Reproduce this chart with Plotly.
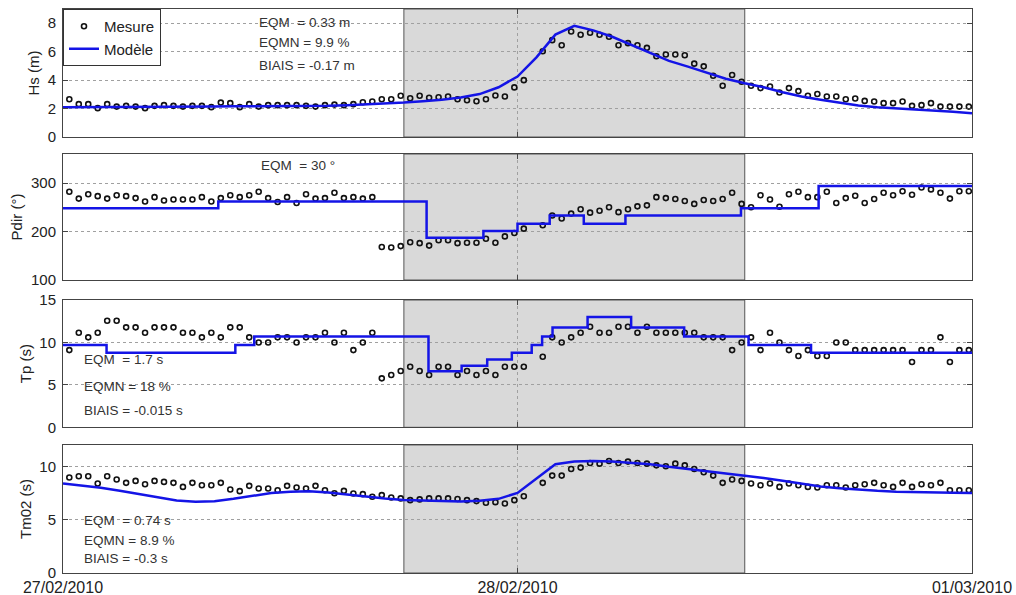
import pandas as pd
import plotly.graph_objects as go
from plotly.subplots import make_subplots

# ---------------- data ----------------
START = pd.Timestamp("2010-02-27 00:00")
meas_time = pd.date_range("2010-02-27 00:20", periods=96, freq="30min")
model_time = pd.date_range("2010-02-27 00:00", periods=49, freq="h")

hs_meas = [2.66, 2.31, 2.31, 2.03, 2.31, 2.14, 2.19, 2.14, 2.03, 2.19,
           2.24, 2.19, 2.14, 2.19, 2.19, 2.10, 2.42, 2.38, 2.10, 2.31,
           2.14, 2.24, 2.24, 2.24, 2.24, 2.19, 2.14, 2.24, 2.28, 2.24,
           2.31, 2.45, 2.50, 2.66, 2.66, 2.90, 2.73, 2.90, 2.76, 2.80,
           2.85, 2.66, 2.59, 2.52, 2.66, 2.92, 2.85, 3.49, 4.00, None,
           6.03, 6.81, 6.45, 7.42, 7.19, 7.33, 7.19, 7.05, 6.45, 6.60,
           6.45, 6.27, 5.68, 5.80, 5.80, 5.75, 5.16, 4.97, 4.31, 3.60,
           4.36, 3.89, 3.60, 3.44, 3.55, 3.13, 3.44, 3.23, 2.90, 3.02,
           2.85, 2.85, 2.66, 2.71, 2.54, 2.50, 2.38, 2.38, 2.50, 2.19,
           2.24, 2.38, 2.14, 2.14, 2.14, 2.14]
hs_model = [2.10, 2.10, 2.10, 2.11, 2.12, 2.13, 2.14, 2.15, 2.15, 2.16,
            2.16, 2.17, 2.17, 2.18, 2.19, 2.23, 2.28, 2.35, 2.42, 2.52,
            2.62, 2.78, 3.02, 3.50, 4.25, 5.60, 7.20, 7.82, 7.50, 7.05,
            6.47, 5.90, 5.35, 4.95, 4.50, 4.10, 3.78, 3.50, 3.15, 2.85,
            2.62, 2.42, 2.22, 2.10, 2.03, 1.95, 1.86, 1.77, 1.68]

pdir_meas = [282, 268, 277, 273, 268, 275, 273, 269, 262, 271,
             264, 266, 266, 266, 271, 262, 269, 275, 271, 275,
             282, 269, 261, 271, 259, 277, 268, 269, 280, 269,
             271, 268, 271, 168, 167, 170, 178, 176, 171, 182,
             182, 176, 177, 177, 185, 177, 190, 197, 206, None,
             213, 233, 227, 237, 246, 239, 243, 250, 240, 246,
             252, 254, 271, 269, 267, 263, 257, 265, 263, 267,
             280, 257, 250, 275, 266, 251, 277, 282, 271, 271,
             282, 259, 269, 274, 259, 267, 280, 275, 283, 276,
             291, 287, 280, 268, 283, 283]
pdir_step_hours = [0, 8.2, 19.2, 22.2, 24.0, 25.7, 27.5, 29.7, 35.8, 39.9]
pdir_step_levels = [248, 262, 187, 201, 216, 233, 216, 233, 248, 294]

tp_meas = [9.10, 11.15, 10.60, 11.15, 12.56, 12.56, 11.78, 11.78, 11.15, 11.78,
           11.78, 11.78, 11.15, 11.15, 10.60, 11.15, 10.60, 11.78, 11.78, 10.60,
           10.00, 10.00, 10.60, 10.60, 10.00, 10.60, 10.60, 11.15, 10.00, 11.15,
           9.10, 10.00, 11.15, 5.77, 6.16, 6.63, 7.14, 6.63, 6.16, 7.14,
           7.14, 6.16, 6.63, 6.16, 6.63, 6.16, 7.14, 7.14, 7.14, None,
           8.32, 10.60, 10.00, 10.60, 11.15, 11.85, 11.15, 11.15, 11.85, 11.85,
           11.15, 11.85, 11.15, 11.15, 11.15, 11.15, 11.15, 10.60, 10.60, 10.60,
           9.10, 10.00, 10.60, 9.10, 11.15, 10.00, 9.10, 8.40, 9.10, 8.40,
           8.40, 10.00, 10.00, 9.10, 9.10, 9.10, 9.10, 9.10, 9.10, 7.69,
           9.10, 9.10, 10.60, 7.69, 9.10, 9.10]
tp_step_hours = [0, 2.3, 9.1, 10.1, 19.3, 21.05, 22.4, 23.7, 24.75, 25.3,
                 25.85, 27.7, 30.0, 32.8, 36.2, 39.5]
tp_step_levels = [9.7, 8.8, 9.7, 10.7, 6.6, 7.25, 8.0, 8.8, 9.7, 10.7,
                  11.75, 13.0, 11.75, 10.7, 9.7, 8.8]

tm02_meas = [8.95, 9.07, 9.07, 8.39, 9.07, 8.76, 8.45, 8.63, 8.32, 8.63,
             8.54, 8.45, 8.07, 8.45, 8.23, 8.23, 8.45, 7.83, 7.67, 8.17,
             7.92, 7.92, 7.76, 8.17, 8.01, 7.92, 8.17, 7.76, 7.48, 7.70,
             7.45, 7.39, 7.14, 7.30, 7.08, 6.99, 6.83, 6.90, 6.99, 6.99,
             6.99, 6.93, 6.83, 6.74, 6.58, 6.64, 6.52, 6.83, 7.20, None,
             8.45, 9.13, 9.13, 9.75, 9.88, 10.31, 10.25, 10.50, 10.31, 10.44,
             10.31, 10.25, 10.09, 10.00, 10.25, 10.09, 9.75, 9.44, 9.13, 8.45,
             8.76, 8.63, 8.39, 8.23, 8.39, 8.07, 8.39, 8.23, 8.07, 8.01,
             8.23, 8.23, 8.01, 8.23, 8.32, 8.45, 8.23, 8.07, 8.45, 8.07,
             8.32, 8.23, 8.45, 7.76, 7.76, 7.76]
tm02_model = [8.40, 8.20, 8.00, 7.70, 7.40, 7.05, 6.80, 6.68, 6.72, 6.95,
              7.25, 7.50, 7.62, 7.67, 7.55, 7.35, 7.15, 6.98, 6.85, 6.78,
              6.72, 6.70, 6.78, 6.95, 7.50, 8.85, 10.20, 10.45, 10.50, 10.45,
              10.35, 10.20, 9.95, 9.75, 9.55, 9.35, 9.15, 8.90, 8.65, 8.35,
              8.10, 7.95, 7.80, 7.70, 7.62, 7.57, 7.53, 7.51, 7.50]

y_titles = ["Hs (m)", "Pdir (°)", "Tp (s)", "Tm02 (s)"]
y_ranges = [[0, 9], [100, 360], [0, 15], [0, 12]]
y_ticks = [[0, 2, 4, 6, 8], [100, 200, 300], [0, 5, 10, 15], [0, 5, 10]]
x_tick_dates = ["2010-02-27", "2010-02-28", "2010-03-01"]
x_tick_text = ["27/02/2010", "28/02/2010", "01/03/2010"]
shade_start_h, shade_end_h = 18, 36

stats_text = [
    ["EQM\u00a0 = 0.33 m", "EQMN = 9.9 %", "BIAIS = -0.17 m"],
    ["EQM\u00a0 = 30 °"],
    ["EQM\u00a0 = 1.7 s", "EQMN = 18 %", "BIAIS = -0.015 s"],
    ["EQM\u00a0 = 0.74 s", "EQMN = 8.9 %", "BIAIS = -0.3 s"],
]


def step_series(hours, levels):
    t = [START + pd.Timedelta(hours=h) for h in hours] + [START + pd.Timedelta(hours=48)]
    v = list(levels) + [levels[-1]]
    return t, v


# ---------------- figure ----------------
FONT = "Liberation Sans, Arial, sans-serif"
BLUE = "#1414e6"
fig = make_subplots(rows=4, cols=1, shared_xaxes=True, vertical_spacing=0.03)

meas_all = [hs_meas, pdir_meas, tp_meas, tm02_meas]
pdir_t, pdir_v = step_series(pdir_step_hours, pdir_step_levels)
tp_t, tp_v = step_series(tp_step_hours, tp_step_levels)
model_all = [(model_time, hs_model, "linear"), (pdir_t, pdir_v, "hv"),
             (tp_t, tp_v, "hv"), (model_time, tm02_model, "linear")]

for i in range(4):
    r = i + 1
    mt, mv, shape = model_all[i]
    fig.add_trace(go.Scatter(x=meas_time, y=meas_all[i], mode="markers", name="Mesure",
                             marker=dict(symbol="circle-open", size=5, color="#111111",
                                         line=dict(width=1.6, color="#111111")),
                             showlegend=(i == 0), legendrank=1), row=r, col=1)
    fig.add_trace(go.Scatter(x=mt, y=mv, mode="lines", name="Modèle",
                             line=dict(color=BLUE, width=2.5, shape=shape),
                             showlegend=(i == 0), legendrank=2), row=r, col=1)

# domains (pixel-matched)
y_domains = [[0.7730, 1.0], [0.5195, 0.7429], [0.2583, 0.4840], [0.0, 0.2270]]

axis_common = dict(showline=True, linecolor="#444444", linewidth=1, mirror="ticks",
                   ticks="inside", ticklen=5, tickcolor="#444444",
                   showgrid=True, gridcolor="#a0a0a0", griddash="dot", gridwidth=1,
                   zeroline=False, tickfont=dict(family=FONT, size=15, color="#222222"))

for i in range(4):
    sfx = "" if i == 0 else str(i + 1)
    fig.layout["yaxis" + sfx].update(
        domain=y_domains[i], range=y_ranges[i], tickvals=y_ticks[i],
        title=dict(text=y_titles[i], font=dict(family=FONT, size=15, color="#222222"),
                   standoff=4),
        ticklabelstandoff=3, **axis_common)
    fig.layout["xaxis" + sfx].update(
        type="date", range=[START, START + pd.Timedelta(hours=48)],
        tickvals=x_tick_dates, ticktext=x_tick_text,
        showticklabels=(i == 3), **axis_common)
    fig.layout["xaxis" + sfx].tickfont.size = 16
    fig.add_shape(type="rect", xref="x" + sfx, yref=("y" + sfx + " domain"),
                  x0=START + pd.Timedelta(hours=shade_start_h),
                  x1=START + pd.Timedelta(hours=shade_end_h),
                  y0=0, y1=1, fillcolor="#d9d9d9",
                  line=dict(color="#555555", width=1), layer="below")

# statistics text (positions in plot-area fractions)
text_x = [0.2134, 0.2156, 0.0209, 0.0209]
text_y = [[0.9755, 0.9400, 0.8990], [0.7220], [0.3777, 0.3303, 0.2890], [0.0922, 0.0585, 0.0260]]
for i in range(4):
    for j, s in enumerate(stats_text[i]):
        fig.add_annotation(text=s, xref="paper", yref="paper", x=text_x[i], y=text_y[i][j],
                           xanchor="left", yanchor="middle", showarrow=False,
                           font=dict(family=FONT, size=13.5, color="#333333"))

fig.update_layout(
    width=1016, height=595,
    margin=dict(l=63, r=44, t=9, b=22, autoexpand=False),
    paper_bgcolor="white", plot_bgcolor="white",
    font=dict(family=FONT, color="#222222"),
    legend=dict(x=0, y=1, xanchor="left", yanchor="top", bgcolor="white",
                bordercolor="#333333", borderwidth=1, tracegroupgap=0,
                font=dict(family=FONT, size=15, color="#222222"), itemwidth=30),
)

fig.write_html("out.html", config={"displayModeBar": False},
               post_script="document.body.style.margin='0px';"
                           "document.body.style.overflow='hidden';")
